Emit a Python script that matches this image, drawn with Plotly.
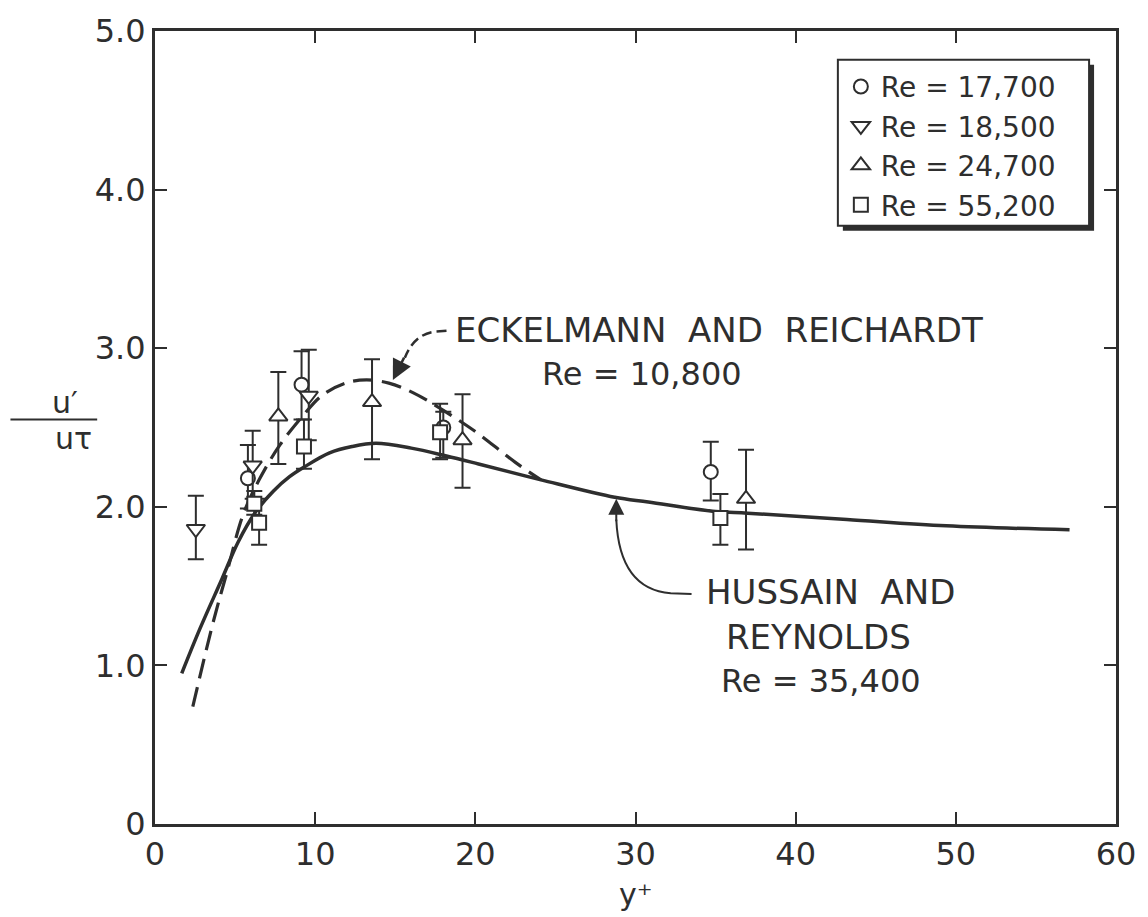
import plotly.graph_objects as go

# ---------------- data ----------------
# Re = 17,700 (circles)
c_x = [5.8, 9.15, 18.0, 34.7]
c_y = [2.18, 2.77, 2.50, 2.22]
c_hi = [2.39, 2.98, 2.60, 2.41]
c_lo = [1.99, 2.55, 2.31, 2.04]

# Re = 18,500 (inverted triangles)
d_x = [2.55, 6.1, 9.6]
d_y = [1.86, 2.26, 2.70]
d_hi = [2.07, 2.48, 2.99]
d_lo = [1.67, 2.05, 2.42]

# Re = 24,700 (triangles)
t_x = [7.7, 13.55, 19.2, 36.9]
t_y = [2.57, 2.66, 2.42, 2.05]
t_hi = [2.85, 2.93, 2.71, 2.36]
t_lo = [2.27, 2.30, 2.12, 1.73]

# Re = 55,200 (squares)
s_x = [6.2, 6.5, 9.3, 17.8, 35.3]
s_y = [2.02, 1.90, 2.38, 2.47, 1.93]
s_hi = [2.10, 2.05, 2.55, 2.65, 2.08]
s_lo = [1.95, 1.76, 2.24, 2.30, 1.76]

# Hussain and Reynolds, Re = 35,400 (solid curve)
hr_x = [1.67, 2.8, 4.2, 5.2, 6.3, 7.4, 8.4, 9.3, 10.9, 12.3, 13.8, 16.0, 18.2,
        20.2, 24.1, 28.7, 30.8, 35.0, 37.0, 43.2, 49.4, 57.1]
hr_y = [0.95, 1.23, 1.55, 1.78, 1.97, 2.10, 2.19, 2.25, 2.34, 2.38, 2.40, 2.37, 2.32,
        2.27, 2.17, 2.06, 2.03, 1.97, 1.96, 1.92, 1.88, 1.855]

# Eckelmann and Reichardt, Re = 10,800 (dashed curve)
er_x = [2.36, 3.6, 4.5, 5.5, 6.5, 7.8, 9.2, 10.4, 11.9, 13.2, 14.6, 16.1, 17.5,
        19.2, 20.2, 22.5, 24.1]
er_y = [0.74, 1.26, 1.59, 1.95, 2.17, 2.39, 2.57, 2.70, 2.78, 2.80, 2.78, 2.72, 2.64,
        2.53, 2.46, 2.28, 2.17]

legend_names = ["Re\u00a0=\u00a017,700", "Re\u00a0=\u00a018,500",
                "Re\u00a0=\u00a024,700", "Re\u00a0=\u00a055,200"]

x_ticks = [0, 10, 20, 30, 40, 50, 60]
x_ticktext = ["0", "10", "20", "30", "40", "50", "60"]
y_ticks = [0, 1, 2, 3, 4, 5]
y_ticktext = ["0", "1.0", "2.0", "3.0", "4.0", "5.0"]

# ---------------- style ----------------
INK = "#2e2e2e"
FONT = "DejaVu Sans"

fig = go.Figure()

fig.add_trace(go.Scatter(x=hr_x, y=hr_y, mode="lines", line=dict(color=INK, width=3.5, shape="spline"),
                         showlegend=False, hoverinfo="skip"))
fig.add_trace(go.Scatter(x=er_x, y=er_y, mode="lines",
                         line=dict(color=INK, width=3.2, shape="spline", dash="20px,9px"),
                         showlegend=False, hoverinfo="skip"))

def pts(name, xs, ys, hi, lo, symbol, size):
    plus = [h - y for h, y in zip(hi, ys)]
    minus = [y - l for y, l in zip(ys, lo)]
    return go.Scatter(
        x=xs, y=ys, mode="markers", name=name,
        marker=dict(symbol=symbol, size=size, color="white", line=dict(color=INK, width=2)),
        error_y=dict(type="data", array=plus, arrayminus=minus, color=INK, thickness=2, width=8),
    )

fig.add_trace(pts(legend_names[0], c_x, c_y, c_hi, c_lo, "circle", 14))
fig.add_trace(pts(legend_names[1], d_x, d_y, d_hi, d_lo, "triangle-down", 16))
fig.add_trace(pts(legend_names[2], t_x, t_y, t_hi, t_lo, "triangle-up", 16))
fig.add_trace(pts(legend_names[3], s_x, s_y, s_hi, s_lo, "square", 14))

# plot area in pixels: x 155..1119, y 26..824
L, R, T, B = 155, 1119, 26, 824
def px(xp):
    return (xp - L) / (R - L)
def py(yp):
    return (B - yp) / (B - T)

shapes = []
# legend shadow + box
shapes.append(dict(type="rect", xref="paper", yref="paper", x0=px(845), x1=px(1097), y0=py(60), y1=py(227),
                   fillcolor=INK, line=dict(width=0), layer="above"))
shapes.append(dict(type="rect", xref="paper", yref="paper", x0=px(840), x1=px(1092), y0=py(55), y1=py(222),
                   fillcolor="white", line=dict(color=INK, width=2), layer="above"))
# leader for Hussain and Reynolds
shapes.append(dict(type="path", xref="x", yref="y",
                   path="M 33.5,1.45 L 32.2,1.455 Q 29.0,1.48 28.8,1.92",
                   line=dict(color=INK, width=2)))
# dashed leader for Eckelmann and Reichardt
shapes.append(dict(type="path", xref="x", yref="y",
                   path="M 18.2,3.11 L 17.5,3.105 Q 16.2,3.09 15.6,2.94",
                   line=dict(color=INK, width=2.5, dash="10px,5px")))

annotations = []
# arrowheads
annotations.append(dict(x=28.8, y=2.05, ax=28.8, ay=1.90, xref="x", yref="y", axref="x", ayref="y",
                        text="", showarrow=True, arrowhead=2, arrowsize=1.6, arrowwidth=2, arrowcolor=INK))
annotations.append(dict(x=14.85, y=2.80, ax=15.6, ay=2.95, xref="x", yref="y", axref="x", ayref="y",
                        text="", showarrow=True, arrowhead=2, arrowsize=1.6, arrowwidth=2.5, arrowcolor=INK))

def label(text, xv, yv, size=32):
    return dict(x=xv, y=yv, xref="x", yref="y", text=text, showarrow=False,
                font=dict(family=FONT, size=size, color=INK), xanchor="center", yanchor="middle")

annotations.append(label("ECKELMANN\u00a0 AND\u00a0 REICHARDT", 35.2, 3.115, 34))
annotations.append(label("Re\u00a0=\u00a010,800", 30.4, 2.835, 32))
annotations.append(label("HUSSAIN\u00a0 AND", 42.15, 1.465, 34))
annotations.append(label("REYNOLDS", 41.4, 1.18, 34))
annotations.append(label("Re\u00a0=\u00a035,400", 41.6, 0.90, 32))

# axis titles
annotations.append(dict(x=30, y=py(915), xref="x", yref="paper", text="y\u207a", showarrow=False,
                        yanchor="bottom", font=dict(family=FONT, size=30, color=INK)))
annotations.append(dict(x=px(50), y=py(400), xref="paper", yref="paper", text="u\u2032", showarrow=False,
                        font=dict(family=FONT, size=30, color=INK)))
annotations.append(dict(x=px(53), y=py(436), xref="paper", yref="paper", text="u\u03c4", showarrow=False,
                        font=dict(family=FONT, size=30, color=INK)))
shapes.append(dict(type="line", xref="paper", yref="paper", x0=px(10), x1=px(97), y0=py(417), y1=py(417),
                   line=dict(color=INK, width=2)))

axis_common = dict(showline=True, linewidth=3, linecolor=INK, mirror="ticks", ticks="inside",
                   ticklen=12, tickwidth=2, tickcolor=INK, showgrid=False, zeroline=False,
                   tickfont=dict(family=FONT, size=32, color=INK))

fig.update_layout(
    width=1148, height=917,
    margin=dict(l=L, r=1148 - R, t=T, b=917 - B),
    paper_bgcolor="white", plot_bgcolor="white",
    xaxis=dict(range=[0, 60], tickvals=x_ticks, ticktext=x_ticktext, **axis_common),
    yaxis=dict(range=[0, 5], tickvals=y_ticks, ticktext=y_ticktext, **axis_common),
    showlegend=True,
    legend=dict(x=px(843), y=py(57), xanchor="left", yanchor="top", bgcolor="rgba(0,0,0,0)",
                borderwidth=0, font=dict(family=FONT, size=28, color=INK), tracegroupgap=0),
    shapes=shapes, annotations=annotations,
)

fig.write_html("out.html", config={"displayModeBar": False},
               post_script="document.body.style.margin='0';document.body.style.overflow='hidden';")
